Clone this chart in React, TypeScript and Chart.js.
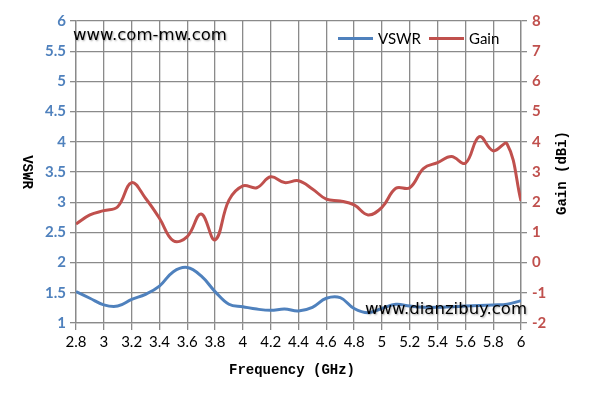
import React, { useEffect, useRef } from "react";
import { Chart, registerables } from "chart.js";

Chart.register(...registerables);

const freqs = [2.8, 2.9, 3.0, 3.1, 3.2, 3.3, 3.4, 3.5, 3.6, 3.7, 3.8, 3.9, 4.0, 4.1, 4.2, 4.3, 4.4,
  4.5, 4.6, 4.7, 4.8, 4.9, 5.0, 5.1, 5.2, 5.3, 5.4, 5.5, 5.6, 5.7, 5.8, 5.9, 6.0];
const vswr = [1.52, 1.41, 1.30, 1.28, 1.39, 1.475, 1.61, 1.85, 1.92, 1.78, 1.52, 1.31, 1.27, 1.23, 1.21, 1.23, 1.20,
  1.26, 1.41, 1.42, 1.24, 1.17, 1.24, 1.31, 1.28, 1.26, 1.26, 1.27, 1.28, 1.29, 1.30, 1.31, 1.37];
const gain = [1.28, 1.58, 1.72, 1.85, 2.65, 2.13, 1.47, 0.72, 0.86, 1.61, 0.75, 2.07, 2.54, 2.48, 2.84, 2.65, 2.71,
  2.44, 2.1, 2.04, 1.91, 1.58, 1.83, 2.46, 2.48, 3.12, 3.31, 3.51, 3.29, 4.17, 3.7, 3.93, 2.04];

const seriesNames = ["VSWR", "Gain"];
const xTitle = "Frequency (GHz)";
const yLeftTitle = "VSWR";
const yRightTitle = "Gain (dBi)";
const watermarks = ["www.com-mw.com", "www.dianzibuy.com"];

const BLUE = "#4F81BD";
const RED = "#C0504D";
const GRID = "#8a8a8a";

const fmt = (v: any) => String(parseFloat(Number(v).toFixed(1)));

export default function App() {
  const ref = useRef<HTMLCanvasElement | null>(null);
  useEffect(() => {
    if (!ref.current) return;
    const overlay = {
      id: "overlay",
      afterDraw(chart: any) {
        const ctx = chart.ctx;
        ctx.save();
        ctx.fillStyle = "#000";
        ctx.font = "bold 14px 'Liberation Mono'";
        ctx.textAlign = "center";
        ctx.textBaseline = "middle";
        ctx.fillText(xTitle, 292, 370);
        ctx.save();
        ctx.translate(27, 172);
        ctx.rotate(Math.PI / 2);
        ctx.fillText(yLeftTitle, 0, 0);
        ctx.restore();
        ctx.save();
        ctx.translate(562, 173);
        ctx.rotate(-Math.PI / 2);
        ctx.fillText(yRightTitle, 0, 0);
        ctx.restore();

        // legend
        ctx.font = "15px Lato";
        ctx.textAlign = "left";
        const starts = [338, 429];
        chart.data.datasets.forEach((ds: any, i: number) => {
          const x0 = starts[i];
          ctx.strokeStyle = ds.borderColor;
          ctx.lineWidth = 3;
          ctx.beginPath();
          ctx.moveTo(x0, 38.5);
          ctx.lineTo(x0 + 35, 38.5);
          ctx.stroke();
          ctx.fillStyle = "#000";
          ctx.fillText(ds.label, x0 + 40, 39);
        });

        ctx.font = "16.5px 'DejaVu Sans'";
        ctx.shadowColor = "rgba(0,0,0,0.35)";
        ctx.shadowBlur = 2;
        ctx.shadowOffsetX = 1;
        ctx.shadowOffsetY = 1;
        ctx.fillStyle = "#000";
        ctx.textAlign = "left";
        ctx.fillText(watermarks[0], 73, 36);
        ctx.textAlign = "right";
        ctx.fillText(watermarks[1], 527, 310);
        ctx.restore();
      },
    };
    const chart = new Chart(ref.current, {
      type: "line",
      data: {
        datasets: [
          {
            label: seriesNames[0],
            data: freqs.map((f, i) => ({ x: f, y: vswr[i] })),
            borderColor: BLUE,
            backgroundColor: BLUE,
            borderWidth: 3,
            pointRadius: 0,
            tension: 0.4,
            yAxisID: "y",
          },
          {
            label: seriesNames[1],
            data: freqs.map((f, i) => ({ x: f, y: gain[i] })),
            borderColor: RED,
            backgroundColor: RED,
            borderWidth: 3,
            pointRadius: 0,
            tension: 0.4,
            yAxisID: "y2",
          },
        ],
      },
      options: {
        responsive: false,
        animation: false,
        layout: { padding: { top: 21, left: 0, right: 0, bottom: 0 } },
        plugins: {
          tooltip: { enabled: false },
          legend: { display: false },
        },
        scales: {
          x: {
            type: "linear",
            min: 2.8,
            max: 6,
            afterFit(s: any) { s.height = 81; },
            afterBuildTicks(s: any) { s.ticks = freqs.filter((_, i) => i % 2 === 0).map((v) => ({ value: v })); },
            ticks: {
              color: "#000",
              padding: 3,
              font: { family: "Lato", size: 15 },
              callback: fmt,
              maxRotation: 0,
              autoSkip: false,
            },
            grid: { color: GRID, lineWidth: 1.3, tickLength: 7 },
            border: { color: GRID, width: 1.3 },
          },
          y: {
            position: "left",
            min: 1,
            max: 6,
            afterFit(s: any) { s.width = 76; },
            ticks: {
              stepSize: 0.5,
              color: BLUE,
              padding: 4,
              callback: fmt,
              font: { family: "Lato", size: 15, weight: "bold" },
            },
            grid: { color: GRID, lineWidth: 1.3, tickLength: 6 },
            border: { color: GRID, width: 1.3 },
          },
          y2: {
            position: "right",
            min: -2,
            max: 8,
            afterFit(s: any) { s.width = 72; },
            ticks: {
              stepSize: 1,
              color: RED,
              padding: 5,
              callback: fmt,
              font: { family: "Lato", size: 15, weight: "bold" },
            },
            grid: { color: GRID, lineWidth: 1.3, tickLength: 6, drawOnChartArea: false },
            border: { color: GRID, width: 1.3 },
          },
        },
      },
      plugins: [overlay],
    });
    return () => chart.destroy();
  }, []);
  return (
    <div style={{ position: "fixed", left: 0, top: 0, width: 593, height: 404, background: "#fff" }}>
      <canvas ref={ref} width={593} height={404} />
    </div>
  );
}
